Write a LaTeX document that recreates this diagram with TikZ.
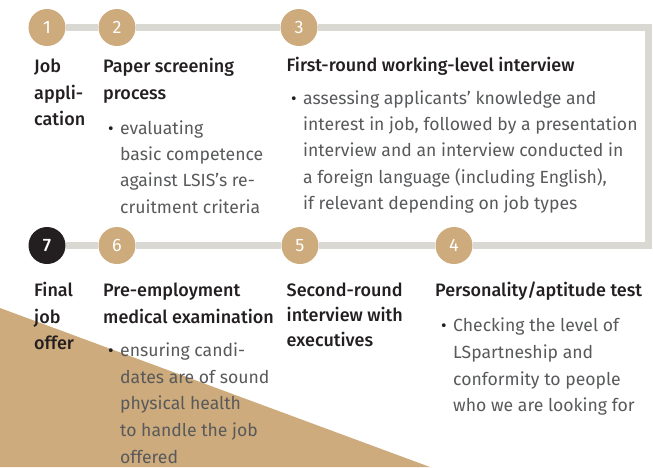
\documentclass[tikz,border=0pt]{standalone}
\usepackage{fontspec}
\setmainfont{Fira Sans}[BoldFont={Fira Sans Medium}]
\definecolor{tan}{HTML}{CDAB7C}
\definecolor{rail}{HTML}{D9D8D3}
\definecolor{head}{HTML}{231F20}
\definecolor{body}{HTML}{58595B}
\begin{document}
\begin{tikzpicture}[x=1pt,y=-1pt,
  num/.style={circle,fill=tan,minimum size=37pt,inner sep=0pt,text=white,font=\fontsize{18}{18}\selectfont},
  numdark/.style={num,fill=head,font=\fontsize{18}{18}\selectfont\bfseries},
  headtxt/.style={anchor=base west,inner sep=0pt,align=left,text=head,font=\fontsize{18}{26.5}\selectfont\bfseries},
  bodytxt/.style={anchor=base west,inner sep=0pt,align=left,text=body,font=\fontsize{17.6}{26.4}\selectfont},
  bul/.style={anchor=base west,inner sep=0pt,text=head,font=\fontsize{17}{26}\selectfont},
  railline/.style={draw=rail,line width=7.5pt}]
\useasboundingbox (0,0) rectangle (653,467);
% background triangle
\fill[tan] (0,308) -- (430,467) -- (0,467) -- cycle;
% rail
\coordinate (tr) at (648.5,27.5);
\coordinate (br) at (648.5,245.5);
\node[num] (n1) at (47,27.5) {1};
\node[num] (n2) at (117,27.5) {2};
\node[num] (n3) at (299,27.5) {3};
\node[num] (n4) at (454,245.5) {4};
\node[num] (n5) at (300,245.5) {5};
\node[num] (n6) at (117,245.5) {6};
\node[numdark] (n7) at (47,245.5) {7};
\draw[railline] (n1.east) -- (n2.west);
\draw[railline] (n2.east) -- (n3.west);
\draw[railline] (n3.east) -- (tr) -- (br) -- (n4.east);
\draw[railline] (n4.west) -- (n5.east);
\draw[railline] (n5.west) -- (n6.east);
\draw[railline] (n6.west) -- (n7.east);
% top row texts (base anchor = last line baseline)
\node[headtxt] (t1) at (34,125.7) {Job\\appli-\\cation};
\node[headtxt] (t2) at (103,99.2) {Paper screening\\process};
\node[bul] (b2) at (108,134) {•};
\node[bodytxt] (d2) at (120,213.2) {evaluating\\basic competence\\against LSIS’s re-\\cruitment criteria};
\node[headtxt] (t3) at (286.5,71) {First-round working-level interview};
\node[bul] (b3) at (291,104) {•};
\node[bodytxt] (d3) at (303,209.6) {assessing applicants’ knowledge and\\interest in job, followed by a presentation\\interview and an interview conducted in\\a foreign language (including English),\\if relevant depending on job types};
% bottom row texts
\node[headtxt] (t7) at (34,349.7) {Final\\job\\offer};
\node[headtxt] (t6) at (103,323.2) {Pre-employment\\medical examination};
\node[bul] (b6) at (108,356.7) {•};
\node[bodytxt,font=\fontsize{17.6}{26.6}\selectfont] (d6) at (120,463.1) {ensuring candi-\\dates are of sound\\physical health\\to handle the job\\offered};
\node[headtxt,font=\fontsize{18}{24.8}\selectfont\bfseries] (t5) at (286.5,346.3) {Second-round\\interview with\\executives};
\node[headtxt] (t4) at (435,296.7) {Personality/aptitude test};
\node[bul] (b4) at (441,331.7) {•};
\node[bodytxt,font=\fontsize{17.6}{26.7}\selectfont] (d4) at (453,411.8) {Checking the level of\\LSpartneship and\\conformity to people\\who we are looking for};
\end{tikzpicture}
\end{document}
